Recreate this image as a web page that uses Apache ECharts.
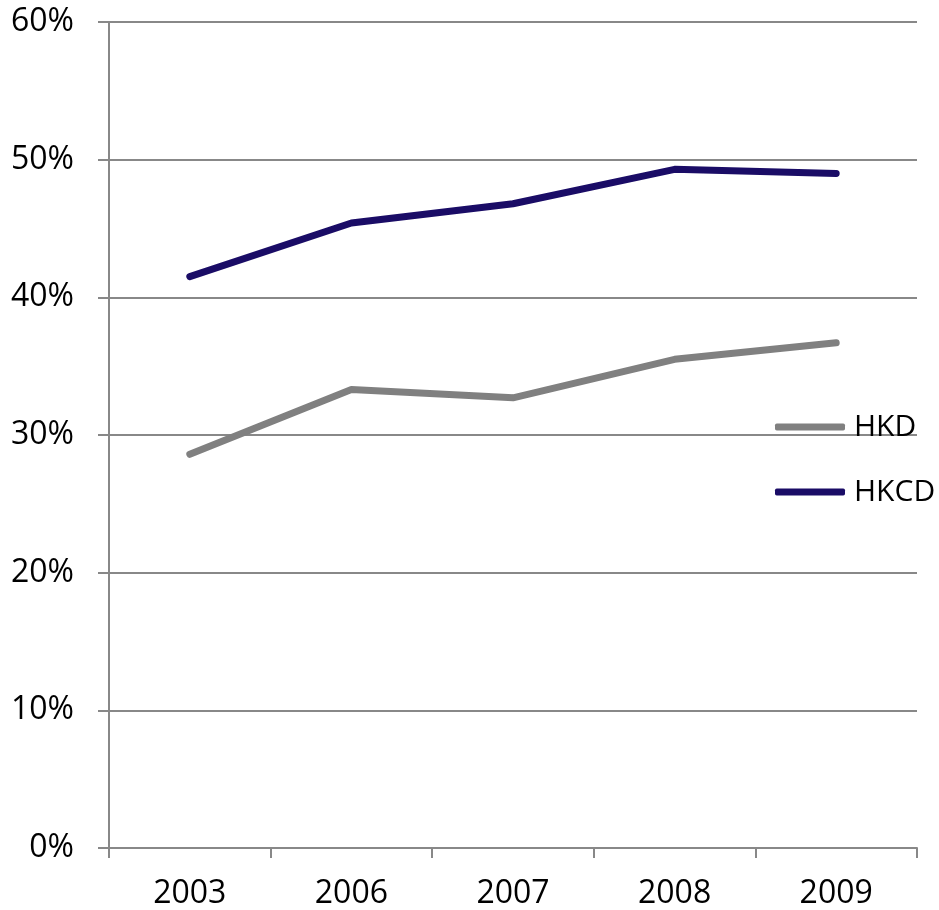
<!DOCTYPE html>
<html><head><meta charset="utf-8">
<script src="https://cdn.jsdelivr.net/npm/echarts@6/dist/echarts.min.js"></script>
<style>html,body{margin:0;padding:0;background:#fff}#c{width:939px;height:910px}</style>
</head><body><div id="c"></div>
<script>
const categories = ['2003','2006','2007','2008','2009'];
const hkd = [28.6, 33.3, 32.7, 35.5, 36.7];
const hkcd = [41.5, 45.4, 46.8, 49.3, 49.0];
const yTicks = [0, 10, 20, 30, 40, 50, 60];

const chart = echarts.init(document.getElementById('c'));
const font = 'Open Sans, Noto Sans, sans-serif';
chart.setOption({
  animation: false,
  grid: {left: 109, right: 22, top: 22, bottom: 62},
  legend: {
    orient: 'vertical', left: 775, top: 411, itemGap: 33, padding: 0,
    itemWidth: 70, itemHeight: 7, icon: 'roundRect',
    textStyle: {fontFamily: font, fontSize: 30, lineHeight: 32, color: '#000', padding: [0,0,0,4]},
    data: ['HKD','HKCD']
  },
  xAxis: {
    type: 'category', data: categories, boundaryGap: true,
    axisLine: {lineStyle: {color: '#888', width: 2}},
    axisTick: {show: true, length: 10, alignWithLabel: false, lineStyle: {color: '#888', width: 2}},
    axisLabel: {fontFamily: font, fontSize: 32, color: '#000', margin: 30}
  },
  yAxis: {
    type: 'value', min: yTicks[0], max: yTicks[yTicks.length-1], interval: 10,
    axisLine: {show: true, lineStyle: {color: '#888', width: 2}},
    axisTick: {show: true, length: 11, lineStyle: {color: '#888', width: 2}},
    splitLine: {lineStyle: {color: '#888', width: 2}},
    axisLabel: {fontFamily: font, fontSize: 32, color: '#000', margin: 35, formatter: v => v + '%'}
  },
  series: [
    {name: 'HKD', type: 'line', data: hkd, symbol: 'none', color: '#808080',
     lineStyle: {width: 7, color: '#808080', cap: 'round', join: 'round'}},
    {name: 'HKCD', type: 'line', data: hkcd, symbol: 'none', color: '#1a0c66',
     lineStyle: {width: 7, color: '#1a0c66', cap: 'round', join: 'round'}}
  ]
});
</script></body></html>
